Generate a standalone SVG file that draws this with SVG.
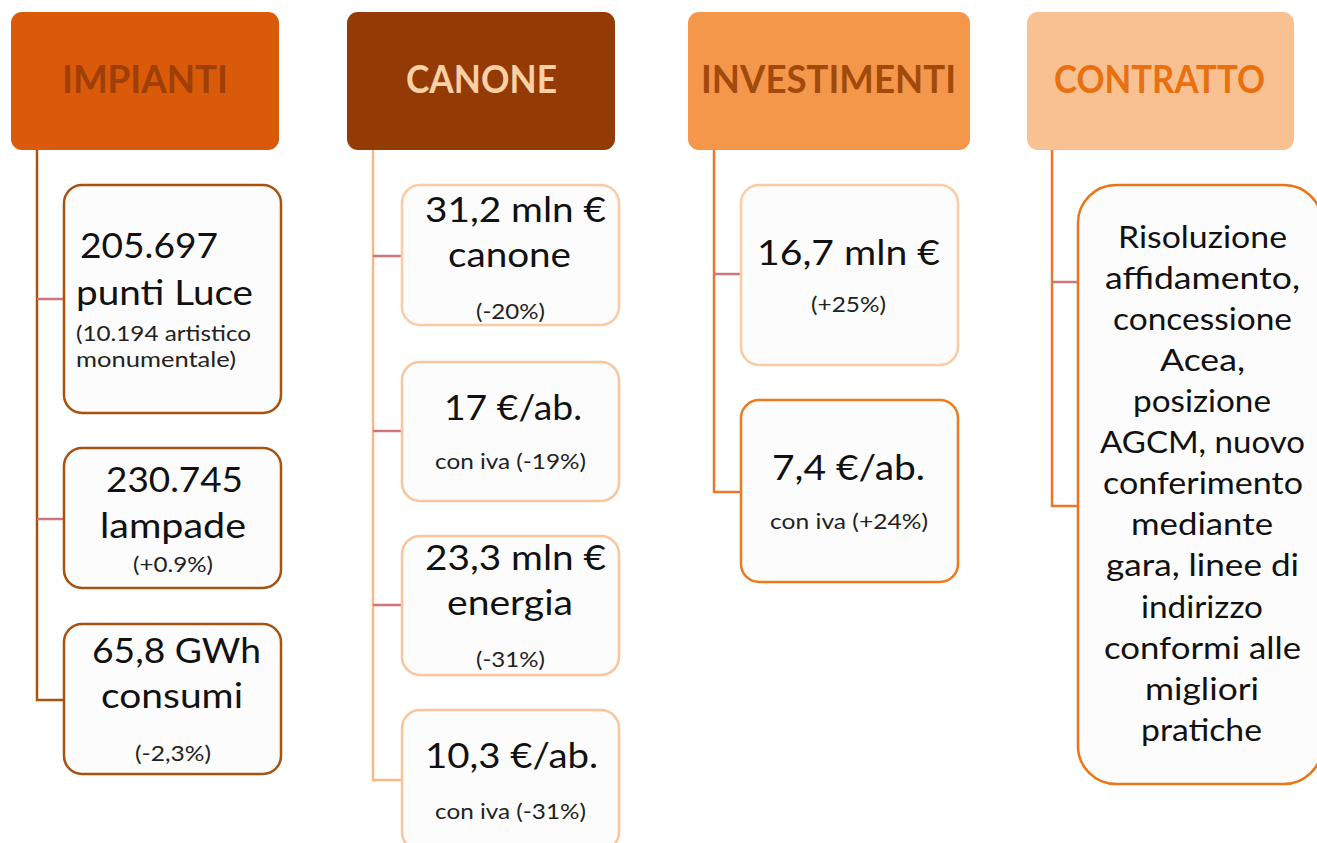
<svg xmlns="http://www.w3.org/2000/svg" width="1317" height="843" viewBox="0 0 1317 843">
<style>
.hdr{font-family:Lato,"Liberation Sans",sans-serif;font-weight:bold;font-size:39px;text-anchor:middle}
.big{font-family:Lato,"Liberation Sans",sans-serif;font-size:35px;fill:#111;text-anchor:middle}
.sm{font-family:Lato,"Liberation Sans",sans-serif;font-size:21px;fill:#222;text-anchor:middle}
.ct{font-family:Lato,"Liberation Sans",sans-serif;font-size:30px;fill:#111;text-anchor:middle}
.left{text-anchor:start}
.box{fill:#FCFCFC;stroke-width:2.5}
.line{fill:none;stroke-width:2.5}
.stub{fill:none;stroke:#CF7479;stroke-width:2.5}
</style>
<rect width="1317" height="843" fill="#FFFFFF"/>
<g id="connectors">
<path class="line" stroke="#A65210" d="M37,150 V700 H64"/>
<path class="stub" d="M37,299 H64 M37,519 H64"/>
<path class="line" stroke="#F8B98A" d="M373,150 V780 H402"/>
<path class="stub" d="M373,256 H402 M373,431 H402 M373,605 H402"/>
<path class="line" stroke="#E9782A" d="M714,150 V492 H741"/>
<path class="stub" d="M714,274 H741"/>
<path class="line" stroke="#E9782A" d="M1052,150 V506 H1078"/>
<path class="stub" d="M1052,282 H1078"/>
</g>
<g id="impianti">
<rect x="11" y="12" width="268" height="138" rx="11" fill="#DA5A0A"/>
<text class="hdr" x="145" y="93" fill="#9E3F08" textLength="166" lengthAdjust="spacingAndGlyphs">IMPIANTI</text>
</g>
<g id="canone">
<rect x="347" y="12" width="268" height="138" rx="11" fill="#943B05"/>
<text class="hdr" x="481.5" y="93" fill="#FBD0A6" textLength="151" lengthAdjust="spacingAndGlyphs">CANONE</text>
</g>
<g id="investimenti">
<rect x="688" y="12" width="282" height="138" rx="11" fill="#F5974B"/>
<text class="hdr" x="828.5" y="93" fill="#A04A0C" textLength="255" lengthAdjust="spacingAndGlyphs">INVESTIMENTI</text>
</g>
<g id="contratto">
<rect x="1027" y="12" width="267" height="138" rx="11" fill="#F9C192"/>
<text class="hdr" x="1159.5" y="93" fill="#E8700F" textLength="211" lengthAdjust="spacingAndGlyphs">CONTRATTO</text>
</g>
<g id="punti-luce">
<rect class="box" x="64" y="185" width="217" height="228" rx="18" stroke="#A8520F"/>
<text class="big left" x="80" y="258" textLength="138" lengthAdjust="spacingAndGlyphs">205.697</text>
<text class="big left" x="76" y="305" textLength="177" lengthAdjust="spacingAndGlyphs">punti Luce</text>
<text class="sm left" x="76" y="341" textLength="175" lengthAdjust="spacingAndGlyphs">(10.194 artistico</text>
<text class="sm left" x="76" y="367" textLength="160" lengthAdjust="spacingAndGlyphs">monumentale)</text>
</g>
<g id="lampade">
<rect class="box" x="64" y="448" width="217" height="140" rx="18" stroke="#A8520F"/>
<text class="big" x="174.5" y="492" textLength="137" lengthAdjust="spacingAndGlyphs">230.745</text>
<text class="big" x="173" y="538" textLength="146" lengthAdjust="spacingAndGlyphs">lampade</text>
<text class="sm" x="173" y="572" textLength="80" lengthAdjust="spacingAndGlyphs">(+0.9%)</text>
</g>
<g id="consumi">
<rect class="box" x="64" y="624" width="217" height="150" rx="18" stroke="#A8520F"/>
<text class="big" x="176.5" y="663" textLength="169" lengthAdjust="spacingAndGlyphs">65,8 GWh</text>
<text class="big" x="172" y="708" textLength="142" lengthAdjust="spacingAndGlyphs">consumi</text>
<text class="sm" x="173" y="761" textLength="76" lengthAdjust="spacingAndGlyphs">(-2,3%)</text>
</g>
<g id="canone-mln">
<rect class="box" x="402" y="185" width="217" height="140" rx="18" stroke="#FBCBA4"/>
<text class="big" x="515.5" y="222" textLength="181" lengthAdjust="spacingAndGlyphs">31,2 mln €</text>
<text class="big" x="509.5" y="267" textLength="123" lengthAdjust="spacingAndGlyphs">canone</text>
<text class="sm" x="510.5" y="319" textLength="69" lengthAdjust="spacingAndGlyphs">(-20%)</text>
</g>
<g id="canone-ab">
<rect class="box" x="402" y="362" width="217" height="139" rx="18" stroke="#FBC49A"/>
<text class="big" x="513" y="420" textLength="138" lengthAdjust="spacingAndGlyphs">17 €/ab.</text>
<text class="sm" x="510.5" y="469" textLength="151" lengthAdjust="spacingAndGlyphs">con iva (-19%)</text>
</g>
<g id="energia-mln">
<rect class="box" x="402" y="536" width="217" height="139" rx="18" stroke="#FBC49A"/>
<text class="big" x="515.5" y="570" textLength="181" lengthAdjust="spacingAndGlyphs">23,3 mln €</text>
<text class="big" x="510" y="615" textLength="126" lengthAdjust="spacingAndGlyphs">energia</text>
<text class="sm" x="510.5" y="667" textLength="69" lengthAdjust="spacingAndGlyphs">(-31%)</text>
</g>
<g id="energia-ab">
<rect class="box" x="402" y="710" width="217" height="140" rx="18" stroke="#FBC49A"/>
<text class="big" x="511.5" y="768" textLength="173" lengthAdjust="spacingAndGlyphs">10,3 €/ab.</text>
<text class="sm" x="510.5" y="819" textLength="151" lengthAdjust="spacingAndGlyphs">con iva (-31%)</text>
</g>
<g id="invest-mln">
<rect class="box" x="741" y="185" width="217" height="180" rx="18" stroke="#FBCBA4"/>
<text class="big" x="848.5" y="265" textLength="183" lengthAdjust="spacingAndGlyphs">16,7 mln €</text>
<text class="sm" x="848.5" y="312" textLength="75" lengthAdjust="spacingAndGlyphs">(+25%)</text>
</g>
<g id="invest-ab">
<rect class="box" x="741" y="400" width="217" height="182" rx="18" stroke="#EE7A1E"/>
<text class="big" x="848.5" y="480" textLength="153" lengthAdjust="spacingAndGlyphs">7,4 €/ab.</text>
<text class="sm" x="849" y="529" textLength="158" lengthAdjust="spacingAndGlyphs">con iva (+24%)</text>
</g>
<g id="contratto-testo">
<rect class="box" x="1078" y="185" width="244" height="599" rx="38" stroke="#EB7417"/>
<text class="ct" x="1202.5" y="248" textLength="169" lengthAdjust="spacingAndGlyphs">Risoluzione</text>
<text class="ct" x="1202.5" y="289" textLength="195" lengthAdjust="spacingAndGlyphs">affidamento,</text>
<text class="ct" x="1202.5" y="330" textLength="179" lengthAdjust="spacingAndGlyphs">concessione</text>
<text class="ct" x="1202.5" y="371" textLength="85" lengthAdjust="spacingAndGlyphs">Acea,</text>
<text class="ct" x="1202" y="412" textLength="138" lengthAdjust="spacingAndGlyphs">posizione</text>
<text class="ct" x="1202.5" y="453" textLength="205" lengthAdjust="spacingAndGlyphs">AGCM, nuovo</text>
<text class="ct" x="1203" y="494" textLength="200" lengthAdjust="spacingAndGlyphs">conferimento</text>
<text class="ct" x="1202" y="535" textLength="142" lengthAdjust="spacingAndGlyphs">mediante</text>
<text class="ct" x="1202.5" y="576" textLength="193" lengthAdjust="spacingAndGlyphs">gara, linee di</text>
<text class="ct" x="1202" y="618" textLength="122" lengthAdjust="spacingAndGlyphs">indirizzo</text>
<text class="ct" x="1202.5" y="659" textLength="197" lengthAdjust="spacingAndGlyphs">conformi alle</text>
<text class="ct" x="1202" y="700" textLength="114" lengthAdjust="spacingAndGlyphs">migliori</text>
<text class="ct" x="1201.5" y="741" textLength="121" lengthAdjust="spacingAndGlyphs">pratiche</text>
</g>
</svg>
